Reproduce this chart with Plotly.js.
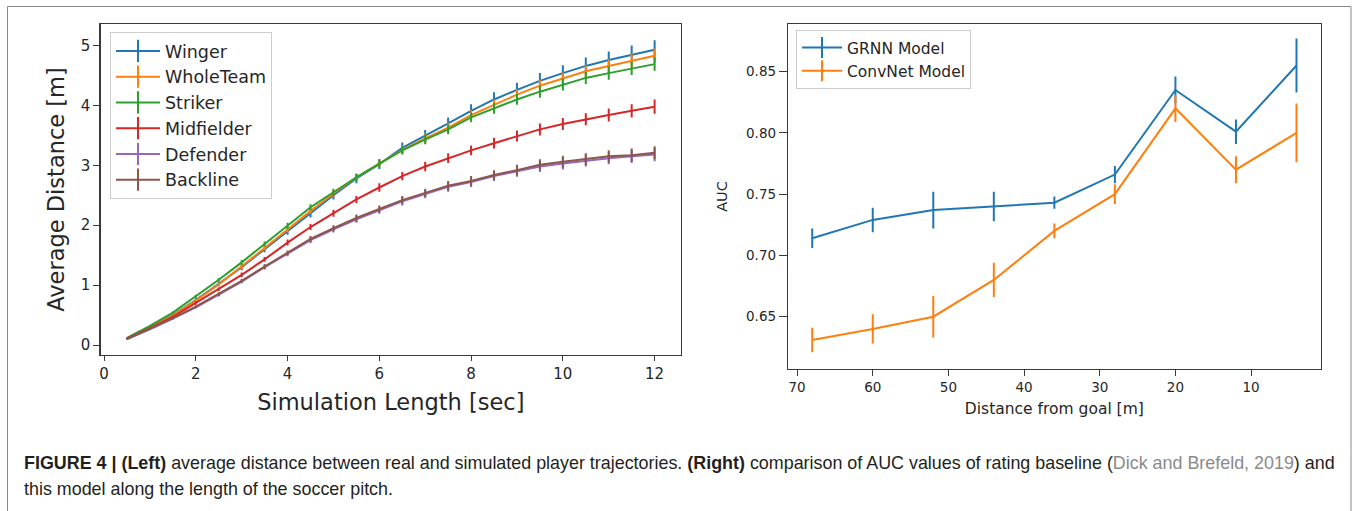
<!DOCTYPE html>
<html>
<head>
<meta charset="utf-8">
<script src="https://cdn.plot.ly/plotly-3.0.1.min.js"></script>
<style>
  html, body { margin: 0; padding: 0; background: #ffffff; }
  #chart { width: 1357px; height: 511px; }
</style>
</head>
<body>
<div id="chart"></div>
<script>
// ---------- Left panel data ----------
const simLength = [0.5,1,1.5,2,2.5,3,3.5,4,4.5,5,5.5,6,6.5,7,7.5,8,8.5,9,9.5,10,10.5,11,11.5,12];

const wingerDist     = [0.11,0.29,0.50,0.75,1.02,1.30,1.60,1.90,2.20,2.50,2.78,3.02,3.29,3.49,3.70,3.91,4.10,4.26,4.41,4.54,4.66,4.76,4.85,4.93];
const wholeTeamDist  = [0.11,0.29,0.49,0.74,1.01,1.31,1.62,1.93,2.24,2.53,2.80,3.03,3.26,3.45,3.63,3.84,4.01,4.18,4.33,4.45,4.57,4.66,4.75,4.83];
const strikerDist    = [0.12,0.32,0.54,0.81,1.09,1.38,1.69,1.99,2.30,2.55,2.80,3.03,3.25,3.43,3.60,3.80,3.95,4.10,4.23,4.35,4.46,4.54,4.62,4.69];
const midfielderDist = [0.11,0.28,0.47,0.70,0.93,1.17,1.43,1.71,1.97,2.20,2.43,2.63,2.82,2.98,3.12,3.25,3.37,3.49,3.60,3.69,3.77,3.84,3.91,3.98];
const defenderDist   = [0.10,0.26,0.44,0.63,0.84,1.06,1.30,1.52,1.75,1.93,2.10,2.25,2.40,2.52,2.64,2.72,2.82,2.90,2.98,3.03,3.08,3.12,3.15,3.18];
const backlineDist   = [0.10,0.27,0.45,0.64,0.85,1.07,1.31,1.54,1.77,1.95,2.12,2.27,2.42,2.54,2.66,2.74,2.84,2.92,3.01,3.06,3.10,3.15,3.17,3.21];

const wingerErr     = [0.01,0.02,0.03,0.03,0.04,0.05,0.05,0.06,0.07,0.07,0.08,0.08,0.09,0.10,0.10,0.11,0.12,0.12,0.13,0.13,0.14,0.14,0.15,0.16];
const wholeTeamErr  = [0.01,0.01,0.02,0.03,0.03,0.04,0.04,0.05,0.05,0.06,0.06,0.07,0.07,0.08,0.08,0.08,0.09,0.09,0.10,0.10,0.10,0.11,0.11,0.12];
const strikerErr    = [0.01,0.01,0.02,0.03,0.03,0.04,0.04,0.05,0.05,0.06,0.06,0.07,0.07,0.08,0.08,0.08,0.09,0.09,0.10,0.10,0.10,0.11,0.11,0.11];
const midfielderErr = [0.01,0.01,0.02,0.03,0.03,0.04,0.04,0.05,0.05,0.06,0.06,0.07,0.07,0.08,0.08,0.08,0.09,0.09,0.10,0.10,0.10,0.11,0.11,0.12];
const defenderErr   = [0.01,0.01,0.02,0.02,0.03,0.03,0.04,0.04,0.05,0.05,0.06,0.06,0.07,0.07,0.08,0.08,0.08,0.09,0.09,0.10,0.10,0.10,0.11,0.11];
const backlineErr   = [0.01,0.01,0.02,0.02,0.03,0.03,0.04,0.04,0.05,0.05,0.06,0.06,0.07,0.07,0.08,0.08,0.08,0.09,0.09,0.10,0.10,0.10,0.11,0.11];

const leftNames = ["Winger","WholeTeam","Striker","Midfielder","Defender","Backline"];

// ---------- Right panel data ----------
const goalDistance = [68,60,52,44,36,28,20,12,4];
const grnnAUC     = [0.714,0.729,0.737,0.740,0.743,0.766,0.835,0.801,0.855];
const grnnErr     = [0.008,0.010,0.015,0.012,0.005,0.007,0.011,0.010,0.022];
const convnetAUC  = [0.631,0.640,0.650,0.680,0.720,0.750,0.820,0.770,0.800];
const convnetErr  = [0.010,0.012,0.017,0.014,0.006,0.008,0.011,0.011,0.024];
const rightNames  = ["GRNN Model","ConvNet Model"];

const xTicksRight = [70,60,50,40,30,20,10];
const yTicksRight = [0.65,0.70,0.75,0.80,0.85];

const colors = ["#1f77b4","#ff7f0e","#2ca02c","#d62728","#9467bd","#8c564b"];

const W = 1357, H = 511;
const px = v => v / W;
const py = v => 1 - v / H;

const FONT = "DejaVu Sans, sans-serif";
const TXT = "#262626";

function series(x, y, err, color, xa, ya) {
  return {
    type: "scatter", mode: "lines", x: x, y: y,
    xaxis: xa, yaxis: ya, showlegend: false, hoverinfo: "skip",
    line: { color: color, width: 2 },
    error_y: { type: "data", array: err, visible: true, color: color, thickness: 2, width: 0 }
  };
}
function legendEntry(name, color, legendId, xa, ya, size) {
  return {
    type: "scatter", mode: "lines+markers", x: [null], y: [null],
    xaxis: xa, yaxis: ya, name: name, legend: legendId, showlegend: true,
    line: { color: color, width: 2 },
    marker: { symbol: "line-ns", size: size, color: color, line: { color: color, width: 2 } }
  };
}

const leftY = [wingerDist, wholeTeamDist, strikerDist, midfielderDist, defenderDist, backlineDist];
const leftE = [wingerErr, wholeTeamErr, strikerErr, midfielderErr, defenderErr, backlineErr];

const traces = [];
leftNames.forEach((n, i) => traces.push(series(simLength, leftY[i], leftE[i], colors[i], "x", "y")));
traces.push(series(goalDistance, grnnAUC, grnnErr, colors[0], "x2", "y2"));
traces.push(series(goalDistance, convnetAUC, convnetErr, colors[1], "x2", "y2"));
leftNames.forEach((n, i) => traces.push(legendEntry(n, colors[i], "legend", "x", "y", 16)));
rightNames.forEach((n, i) => traces.push(legendEntry(n, colors[i], "legend2", "x2", "y2", 15)));

const axisCommon = {
  showline: true, mirror: true, linecolor: "#3a3a3a", linewidth: 1.2,
  ticks: "outside", tickwidth: 1, tickcolor: "#3a3a3a",
  showgrid: false, zeroline: false, automargin: false, fixedrange: true
};

const layout = {
  width: W, height: H,
  margin: { l: 0, r: 0, t: 0, b: 0 },
  paper_bgcolor: "#ffffff", plot_bgcolor: "#ffffff",
  font: { family: FONT, color: TXT },
  showlegend: true,
  xaxis: Object.assign({}, axisCommon, {
    domain: [px(100.6), px(681)], anchor: "y", ticklen: 5,
    range: [-0.075, 12.575], tickmode: "linear", tick0: 0, dtick: 2,
    tickfont: { size: 15, family: FONT, color: TXT },
    title: { text: "Simulation Length [sec]", font: { size: 22.5, family: FONT, color: TXT }, standoff: 12 }
  }),
  yaxis: Object.assign({}, axisCommon, {
    domain: [py(355), py(24)], anchor: "x", ticklen: 6,
    range: [-0.167, 5.36], tickmode: "linear", tick0: 0, dtick: 1,
    tickfont: { size: 15, family: FONT, color: TXT },
    title: { text: "Average Distance [m]", font: { size: 22.5, family: FONT, color: TXT }, standoff: 10 }
  }),
  xaxis2: Object.assign({}, axisCommon, {
    domain: [px(788), px(1320.7)], anchor: "y2", ticklen: 6,
    range: [71.2, 0.8], tickmode: "array", tickvals: xTicksRight, ticktext: xTicksRight.map(String),
    tickfont: { size: 13.5, family: FONT, color: TXT },
    title: { text: "Distance from goal [m]", font: { size: 15.5, family: FONT, color: TXT }, standoff: 8 }
  }),
  yaxis2: Object.assign({}, axisCommon, {
    domain: [py(369), py(24)], anchor: "x2", ticklen: 8,
    range: [0.6073, 0.8889], tickmode: "array", tickvals: yTicksRight, ticktext: yTicksRight.map(v => v.toFixed(2)),
    tickfont: { size: 13.5, family: FONT, color: TXT },
    title: { text: "AUC", font: { size: 14.5, family: FONT, color: TXT }, standoff: 15 }
  }),
  legend: {
    x: px(110), y: py(32), xanchor: "left", yanchor: "top", itemwidth: 44,
    bgcolor: "rgba(255,255,255,0.85)", bordercolor: "#cccccc", borderwidth: 1,
    font: { size: 17.5, family: FONT, color: TXT }, tracegroupgap: 0
  },
  legend2: {
    x: px(796), y: py(30), xanchor: "left", yanchor: "top", itemwidth: 40,
    bgcolor: "rgba(255,255,255,0.85)", bordercolor: "#cccccc", borderwidth: 1,
    font: { size: 15.5, family: FONT, color: TXT }, tracegroupgap: 0
  },
  shapes: [
    { type: "rect", xref: "paper", yref: "paper", x0: px(7.5), x1: px(1351), y0: -0.05, y1: py(6.5),
      line: { color: "#8a8a8a", width: 1 }, fillcolor: "rgba(0,0,0,0)", layer: "below" }
  ],
  annotations: [
    { xref: "paper", yref: "paper", x: px(22), y: py(463), xanchor: "left", yanchor: "middle", showarrow: false, align: "left",
      font: { family: "Liberation Sans, Arial, sans-serif", size: 17.9, color: "#231f20" },
      text: "<b>FIGURE 4 | (Left)</b> average distance between real and simulated player trajectories. <b>(Right)</b> comparison of AUC values of rating baseline (<span style='color:#8a8a8a'>Dick and Brefeld, 2019</span>) and" },
    { xref: "paper", yref: "paper", x: px(22), y: py(489), xanchor: "left", yanchor: "middle", showarrow: false, align: "left",
      font: { family: "Liberation Sans, Arial, sans-serif", size: 17.9, color: "#231f20" },
      text: "this model along the length of the soccer pitch." }
  ]
};

Plotly.newPlot("chart", traces, layout, { displayModeBar: false, staticPlot: true });
</script>
</body>
</html>
